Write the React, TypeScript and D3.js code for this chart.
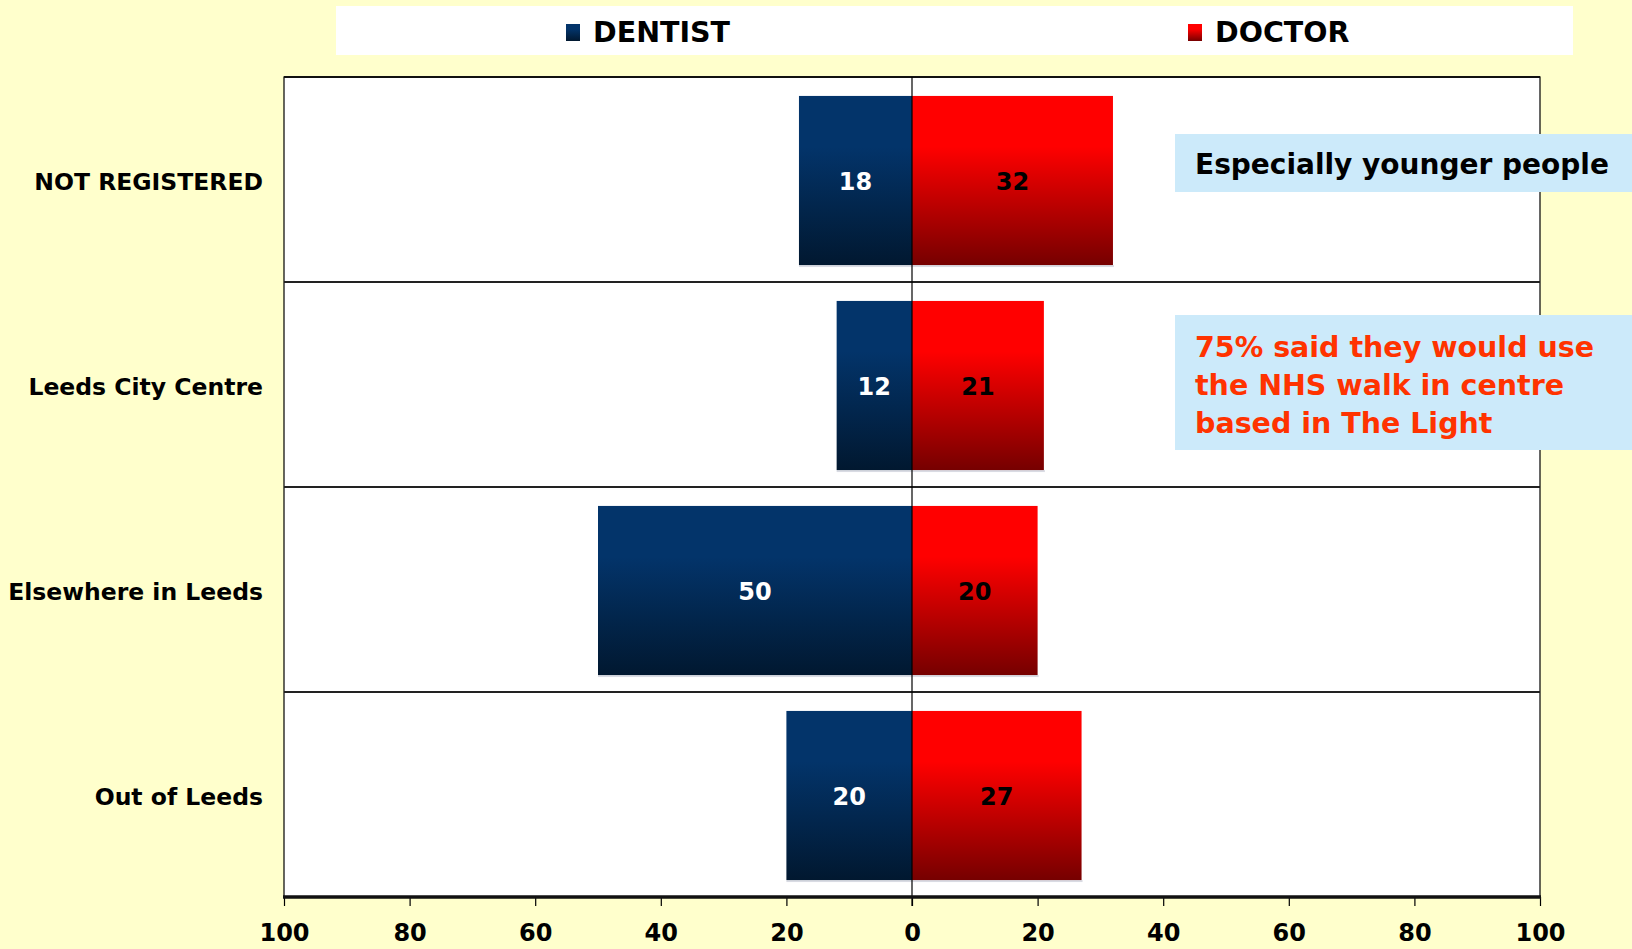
import React, { useEffect, useRef } from "react";
import * as d3 from "d3";

// Where people are registered with a dentist / doctor (%)
const categories = ["NOT REGISTERED", "Leeds City Centre", "Elsewhere in Leeds", "Out of Leeds"];
const dentist = [18, 12, 50, 20];
const doctor = [32, 21, 20, 27];
const seriesNames = ["DENTIST", "DOCTOR"];
const tickValues = [-100, -80, -60, -40, -20, 0, 20, 40, 60, 80, 100];
const youngNote = ["Especially younger people"];
const walkInNote = ["75% said they would use", "the NHS walk in centre", "based in The Light"];

const W = 1632;
const H = 949;
const FONT = "'DejaVu Sans', Verdana, sans-serif";

export default function App() {
  const ref = useRef<SVGSVGElement | null>(null);

  useEffect(() => {
    const svg = d3.select(ref.current);
    svg.selectAll("*").remove();

    const left = 284, right = 1540, top = 77, bottom = 897;
    const x = d3.scaleLinear().domain([-100, 100]).range([left, right]);
    const y = d3.scaleBand<string>().domain(categories).range([top, bottom]).padding(0);
    const step = y.bandwidth();
    const barH = step * 0.825;
    const barOff = (step - barH) / 2 + 1;

    const defs = svg.append("defs");
    const grad = (id: string, c0: string, c1: string) => {
      const g = defs.append("linearGradient").attr("id", id).attr("x1", 0).attr("y1", 0).attr("x2", 0).attr("y2", 1);
      g.append("stop").attr("offset", "0%").attr("stop-color", c0);
      g.append("stop").attr("offset", "30%").attr("stop-color", c0);
      g.append("stop").attr("offset", "100%").attr("stop-color", c1);
    };
    grad("gDentist", "#03346a", "#011830");
    grad("gDoctor", "#ff0000", "#760000");

    svg.append("rect").attr("width", W).attr("height", H).attr("fill", "#ffffcc");

    // legend
    svg.append("rect").attr("x", 336).attr("y", 6).attr("width", 1237).attr("height", 49).attr("fill", "#ffffff");
    const legendX = [566, 1188];
    seriesNames.forEach((name, i) => {
      svg.append("rect").attr("x", legendX[i]).attr("y", 24).attr("width", 14).attr("height", 17)
        .attr("fill", i === 0 ? "url(#gDentist)" : "url(#gDoctor)");
      svg.append("text").attr("x", legendX[i] + 27).attr("y", 42).text(name)
        .attr("font-family", FONT).attr("font-weight", "bold").attr("font-size", 28.5).attr("fill", "#000");
    });

    // plot frame
    svg.append("rect").attr("x", left).attr("y", top).attr("width", right - left).attr("height", bottom - top)
      .attr("fill", "#ffffff").attr("stroke", "#000").attr("stroke-width", 1.2);
    svg.append("line").attr("x1", left).attr("x2", right).attr("y1", top).attr("y2", top)
      .attr("stroke", "#111").attr("stroke-width", 2);

    // row separators
    categories.slice(1).forEach((c) => {
      svg.append("line").attr("x1", left).attr("x2", right).attr("y1", y(c)!).attr("y2", y(c)!)
        .attr("stroke", "#222").attr("stroke-width", 2);
    });

    const rows = categories.map((c, i) => ({ c, d: dentist[i], g: doctor[i] }));

    // bar shadows
    svg.selectAll(".shadow").data(rows).enter().append("rect")
      .attr("x", (r) => x(-r.d)).attr("y", (r) => y(r.c)! + barOff + barH)
      .attr("width", (r) => x(r.g) - x(-r.d) + 1).attr("height", 2).attr("fill", "#d9dbe3");

    svg.selectAll(".bar-dentist").data(rows).enter().append("rect")
      .attr("x", (r) => x(-r.d)).attr("y", (r) => y(r.c)! + barOff)
      .attr("width", (r) => x(0) - x(-r.d)).attr("height", barH).attr("fill", "url(#gDentist)");
    svg.selectAll(".bar-doctor").data(rows).enter().append("rect")
      .attr("x", x(0)).attr("y", (r) => y(r.c)! + barOff)
      .attr("width", (r) => x(r.g) - x(0)).attr("height", barH).attr("fill", "url(#gDoctor)");

    // value labels
    svg.selectAll(".lab-dentist").data(rows).enter().append("text")
      .attr("x", (r) => (x(-r.d) + x(0)) / 2).attr("y", (r) => y(r.c)! + step / 2 + 2)
      .attr("text-anchor", "middle").attr("dominant-baseline", "central")
      .attr("font-family", FONT).attr("font-weight", "bold").attr("font-size", 24).attr("fill", "#fff")
      .text((r) => r.d);
    svg.selectAll(".lab-doctor").data(rows).enter().append("text")
      .attr("x", (r) => (x(0) + x(r.g)) / 2).attr("y", (r) => y(r.c)! + step / 2 + 2)
      .attr("text-anchor", "middle").attr("dominant-baseline", "central")
      .attr("font-family", FONT).attr("font-weight", "bold").attr("font-size", 24).attr("fill", "#000")
      .text((r) => r.g);

    // zero line
    svg.append("line").attr("x1", x(0)).attr("x2", x(0)).attr("y1", top).attr("y2", bottom + 9)
      .attr("stroke", "#000").attr("stroke-width", 1.2);

    // category labels
    svg.selectAll(".cat").data(categories).enter().append("text")
      .attr("x", 263).attr("y", (c) => y(c)! + step / 2 + 2)
      .attr("text-anchor", "end").attr("dominant-baseline", "central")
      .attr("font-family", FONT).attr("font-weight", "bold").attr("font-size", 23.5).attr("fill", "#000")
      .text((c) => c);

    // bottom axis
    const axis = d3.axisBottom(x).tickValues(tickValues).tickFormat((d) => String(Math.abs(+d)))
      .tickSize(9).tickPadding(18);
    const ax = svg.append("g").attr("transform", `translate(0,${bottom})`).call(axis);
    ax.select(".domain").remove();
    ax.selectAll(".tick line").attr("stroke", "#000").attr("stroke-width", 1.2);
    ax.selectAll(".tick text").attr("font-family", FONT).attr("font-weight", "bold")
      .attr("font-size", 24).attr("fill", "#000");
    svg.append("line").attr("x1", left - 1).attr("x2", right + 1).attr("y1", bottom).attr("y2", bottom)
      .attr("stroke", "#111").attr("stroke-width", 3.5);

    // annotation boxes
    svg.append("rect").attr("x", 1175).attr("y", 134).attr("width", W - 1175).attr("height", 58).attr("fill", "#cceafa");
    svg.append("text").attr("x", 1195).attr("y", 174).text(youngNote[0])
      .attr("font-family", FONT).attr("font-weight", "bold").attr("font-size", 28).attr("fill", "#000");

    svg.append("rect").attr("x", 1175).attr("y", 315).attr("width", W - 1175).attr("height", 135).attr("fill", "#cceafa");
    svg.selectAll(".walk").data(walkInNote).enter().append("text")
      .attr("x", 1195).attr("y", (_, i) => 357 + i * 38).text((d) => d)
      .attr("font-family", FONT).attr("font-weight", "bold").attr("font-size", 28.5).attr("fill", "#ff3300");
  }, []);

  return (
    <svg
      ref={ref}
      width={W}
      height={H}
      style={{ position: "absolute", left: 0, top: 0, display: "block" }}
    />
  );
}
